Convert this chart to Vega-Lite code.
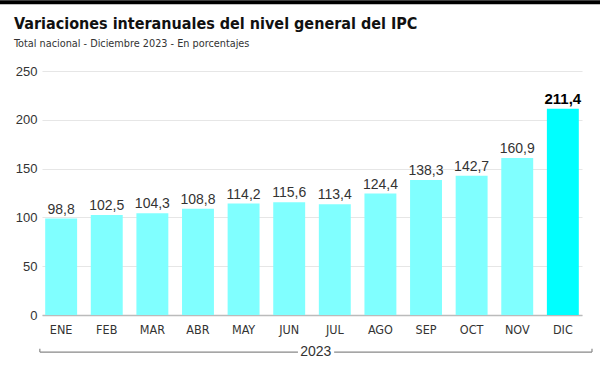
{
  "$schema": "https://vega.github.io/schema/vega-lite/v6.json",
  "autosize": {"type": "none"},
  "width": 540,
  "height": 244,
  "padding": {"left": 42, "top": 71, "right": 18, "bottom": 50},
  "background": "#ffffff",
  "title": {
    "text": "Variaciones interanuales del nivel general del IPC",
    "subtitle": "Total nacional - Diciembre 2023 - En porcentajes",
    "anchor": "start",
    "frame": "group",
    "dx": -28,
    "dy": 64,
    "offset": 15,
    "font": "DejaVu Sans Condensed, Roboto",
    "fontSize": 16,
    "fontWeight": "bold",
    "color": "#111111",
    "subtitleFont": "DejaVu Sans Condensed, Roboto",
    "subtitleFontSize": 10.8,
    "subtitleColor": "#333333",
    "subtitlePadding": 6
  },
  "config": {
    "view": {"stroke": null},
    "axis": {"labelFont": "Liberation Sans", "labelColor": "#333333"}
  },
  "resolve": {"scale": {"x": "independent"}, "axis": {"x": "independent"}},
  "layer": [
    {
      "data": {
        "values": [
          {"mes": "ENE", "valor": 98.8, "destacado": "no", "etiqueta": "98,8"},
          {"mes": "FEB", "valor": 102.5, "destacado": "no", "etiqueta": "102,5"},
          {"mes": "MAR", "valor": 104.3, "destacado": "no", "etiqueta": "104,3"},
          {"mes": "ABR", "valor": 108.8, "destacado": "no", "etiqueta": "108,8"},
          {"mes": "MAY", "valor": 114.2, "destacado": "no", "etiqueta": "114,2"},
          {"mes": "JUN", "valor": 115.6, "destacado": "no", "etiqueta": "115,6"},
          {"mes": "JUL", "valor": 113.4, "destacado": "no", "etiqueta": "113,4"},
          {"mes": "AGO", "valor": 124.4, "destacado": "no", "etiqueta": "124,4"},
          {"mes": "SEP", "valor": 138.3, "destacado": "no", "etiqueta": "138,3"},
          {"mes": "OCT", "valor": 142.7, "destacado": "no", "etiqueta": "142,7"},
          {"mes": "NOV", "valor": 160.9, "destacado": "no", "etiqueta": "160,9"},
          {"mes": "DIC", "valor": 211.4, "destacado": "si", "etiqueta": "211,4"}
        ]
      },
      "encoding": {
        "x": {
          "field": "mes",
          "type": "nominal",
          "sort": null,
          "scale": {"paddingInner": 0.3, "paddingOuter": 0.07},
          "axis": {
            "title": null,
            "labelAngle": 0,
            "labelFont": "DejaVu Sans Condensed, Roboto",
            "labelFontSize": 12.5,
            "labelColor": "#333333",
            "labelPadding": 8,
            "ticks": false,
            "domainColor": "#bbbbbb",
            "domainWidth": 1.5,
            "grid": false
          }
        },
        "y": {
          "field": "valor",
          "type": "quantitative",
          "scale": {"domain": [0, 250], "nice": false},
          "axis": {
            "title": null,
            "values": [0, 50, 100, 150, 200, 250],
            "labelFontSize": 13,
            "labelPadding": 5,
            "ticks": false,
            "domain": false,
            "gridColor": "#e6e6e6",
            "gridWidth": 1.2
          }
        }
      },
      "layer": [
        {
          "mark": {"type": "bar"},
          "encoding": {
            "color": {
              "field": "destacado",
              "type": "nominal",
              "scale": {"domain": ["no", "si"], "range": ["#80ffff", "#00ffff"]},
              "legend": null
            }
          }
        },
        {
          "transform": [{"filter": "datum.destacado == 'no'"}],
          "mark": {"type": "text", "baseline": "alphabetic", "dy": -5, "font": "Liberation Sans", "fontSize": 14, "color": "#333333"},
          "encoding": {"text": {"field": "etiqueta"}}
        },
        {
          "transform": [{"filter": "datum.destacado == 'si'"}],
          "mark": {"type": "text", "baseline": "alphabetic", "dy": -5, "font": "Liberation Sans", "fontSize": 15, "fontWeight": "bold", "color": "#000000"},
          "encoding": {"text": {"field": "etiqueta"}}
        }
      ]
    },
    {
      "data": {
        "values": [
          {"elemento": "corchete izq", "x0": -0.004, "x1": 0.474},
          {"elemento": "corchete der", "x0": 0.541, "x1": 1.0185}
        ]
      },
      "mark": {"type": "rule", "color": "#888888", "strokeWidth": 1.2, "clip": false},
      "encoding": {
        "x": {"field": "x0", "type": "quantitative", "scale": {"domain": [0, 1], "nice": false, "zero": false}, "axis": null},
        "x2": {"field": "x1"},
        "y": {"datum": -38, "scale": {"domain": [0, 250], "nice": false}}
      }
    },
    {
      "data": {
        "values": [
          {"elemento": "extremo izq", "x0": -0.004},
          {"elemento": "extremo der", "x0": 1.0185}
        ]
      },
      "mark": {"type": "rule", "color": "#888888", "strokeWidth": 1.2, "clip": false},
      "encoding": {
        "x": {"field": "x0", "type": "quantitative", "scale": {"domain": [0, 1], "nice": false, "zero": false}, "axis": null},
        "y": {"datum": -38, "scale": {"domain": [0, 250], "nice": false}},
        "y2": {"datum": -34.5}
      }
    },
    {
      "data": {"values": [{"anio": "2023", "x0": 0.507}]},
      "mark": {"type": "text", "baseline": "middle", "align": "center", "font": "Liberation Sans", "fontSize": 14, "color": "#333333", "clip": false},
      "encoding": {
        "x": {"field": "x0", "type": "quantitative", "scale": {"domain": [0, 1], "nice": false, "zero": false}, "axis": null},
        "y": {"datum": -38, "scale": {"domain": [0, 250], "nice": false}},
        "text": {"field": "anio"}
      }
    },
    {
      "data": {"values": [{"elemento": "borde superior", "x0": -0.08, "x1": 1.04}]},
      "mark": {"type": "rule", "color": "#000000", "strokeWidth": 4, "clip": false},
      "encoding": {
        "x": {"field": "x0", "type": "quantitative", "scale": {"domain": [0, 1], "nice": false, "zero": false}, "axis": null},
        "x2": {"field": "x1"},
        "y": {"datum": 320.5, "scale": {"domain": [0, 250], "nice": false}}
      }
    }
  ]
}
